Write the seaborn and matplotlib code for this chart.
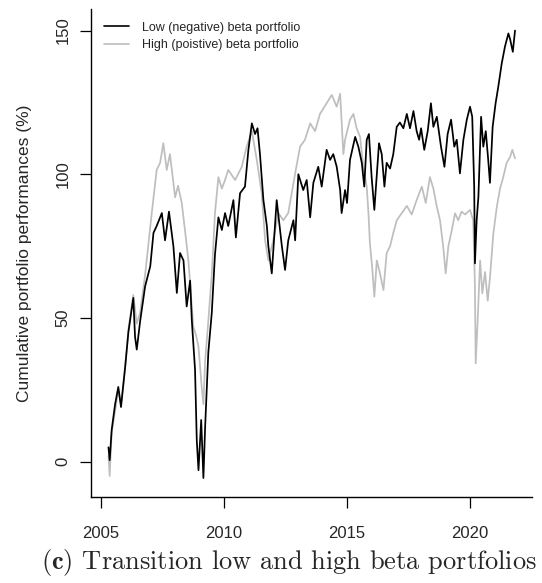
import pandas as pd
import seaborn as sns
import matplotlib.pyplot as plt

# Low (negative) beta portfolio
low_years = [2005.30, 2005.35, 2005.43, 2005.57, 2005.70, 2005.81, 2005.98, 2006.11, 2006.31, 2006.38,
             2006.45, 2006.59, 2006.79, 2007.00, 2007.13, 2007.26, 2007.47, 2007.60, 2007.76, 2007.94,
             2008.08, 2008.21, 2008.35, 2008.48, 2008.62, 2008.69, 2008.82, 2008.89, 2008.96, 2009.07,
             2009.16, 2009.23, 2009.36, 2009.50, 2009.63, 2009.77, 2009.91, 2010.04, 2010.17, 2010.38,
             2010.48, 2010.65, 2010.85, 2010.99, 2011.13, 2011.26, 2011.36, 2011.46, 2011.60, 2011.74,
             2011.80, 2011.94, 2012.14, 2012.35, 2012.48, 2012.61, 2012.82, 2012.89, 2013.02, 2013.22,
             2013.36, 2013.50, 2013.63, 2013.83, 2013.97, 2014.17, 2014.31, 2014.44, 2014.58, 2014.72,
             2014.78, 2014.92, 2015.00, 2015.12, 2015.33, 2015.46, 2015.60, 2015.70, 2015.80, 2015.89,
             2016.00, 2016.11, 2016.21, 2016.30, 2016.41, 2016.52, 2016.61, 2016.75, 2016.88, 2017.02,
             2017.15, 2017.29, 2017.43, 2017.56, 2017.70, 2017.83, 2017.93, 2018.01, 2018.14, 2018.28,
             2018.41, 2018.51, 2018.65, 2018.82, 2018.96, 2019.09, 2019.23, 2019.36, 2019.46, 2019.59,
             2019.73, 2019.87, 2020.00, 2020.09, 2020.17, 2020.20, 2020.27, 2020.34, 2020.45, 2020.54,
             2020.64, 2020.74, 2020.81, 2020.92, 2021.04, 2021.15, 2021.29, 2021.42, 2021.56, 2021.63,
             2021.74, 2021.83]
low_values = [5, 0.5, 11, 20, 26, 19, 33, 45, 57, 43.5,
              39, 49, 61, 68, 79.6, 82, 86.5, 77, 87, 75,
              58.7, 72.6, 70, 54, 63, 49, 32, 7.5, -3, 14.5,
              -5.7, 12, 38, 51.7, 72, 85, 80.6, 86.5, 82, 91,
              78, 93.4, 95.7, 108.5, 117.7, 114, 116, 107, 91, 82,
              75, 65.5, 91, 75, 66.7, 77, 84, 77, 100, 94.5,
              98, 85, 97, 102.6, 95.7, 108.5, 105, 107, 102.6, 94.5,
              86.5, 94.5, 90, 105, 113, 109.6, 104, 95.7, 112, 114,
              99, 87.6, 100, 110.8, 107, 95.7, 104, 102, 107, 116.5,
              118, 116, 121, 116, 122, 115, 112, 116, 108.5, 115,
              124.7, 116.5, 120, 109.6, 102.6, 114, 119, 109.6, 112, 100.3,
              112, 119, 123.5, 120, 95.7, 69, 84, 92, 120, 109.6,
              115, 105, 97, 116.5, 124.7, 130.5, 138.6, 144.4, 149, 147,
              142.6, 150]

# High (positive) beta portfolio
high_years = [2005.30, 2005.35, 2005.43, 2005.70, 2005.81, 2005.98, 2006.11, 2006.31, 2006.45, 2006.59,
              2006.79, 2007.06, 2007.26, 2007.40, 2007.53, 2007.67, 2007.80, 2008.01, 2008.13, 2008.28,
              2008.41, 2008.55, 2008.75, 2008.86, 2008.96, 2009.09, 2009.16, 2009.23, 2009.36, 2009.50,
              2009.63, 2009.77, 2009.91, 2010.04, 2010.17, 2010.45, 2010.72, 2010.92, 2011.13, 2011.33,
              2011.53, 2011.67, 2011.80, 2012.00, 2012.21, 2012.41, 2012.61, 2012.89, 2013.09, 2013.29,
              2013.50, 2013.70, 2013.90, 2014.17, 2014.38, 2014.58, 2014.72, 2014.85, 2014.92, 2015.12,
              2015.26, 2015.39, 2015.53, 2015.66, 2015.80, 2015.87, 2015.93, 2016.03, 2016.11, 2016.21,
              2016.34, 2016.48, 2016.61, 2016.75, 2016.88, 2017.02, 2017.22, 2017.43, 2017.63, 2017.83,
              2018.04, 2018.20, 2018.37, 2018.51, 2018.65, 2018.78, 2018.91, 2019.01, 2019.12, 2019.26,
              2019.39, 2019.52, 2019.66, 2019.80, 2020.00, 2020.13, 2020.20, 2020.23, 2020.31, 2020.41,
              2020.50, 2020.61, 2020.72, 2020.81, 2020.95, 2021.09, 2021.22, 2021.35, 2021.49, 2021.63,
              2021.72, 2021.83]
high_values = [2, -5, 10, 25, 20, 33, 46, 58, 48, 52,
               65, 86.5, 101.5, 104, 110.8, 101.5, 107, 92, 96, 90,
               80.6, 70, 47, 44, 40, 26, 20, 35, 49, 65,
               86.5, 99, 95, 98, 101.5, 98, 102.6, 109.6, 115, 105,
               93.4, 77, 70, 77, 86.5, 84, 86.5, 100.3, 109.6, 112,
               117.7, 115, 121, 124.7, 127.6, 123.5, 128, 107, 112, 119,
               121, 116, 113, 102.6, 95.7, 86.5, 76, 66.7, 57.4, 70,
               65.5, 59.7, 72.5, 75, 79.5, 84, 86.4, 89, 86, 91,
               95.7, 90, 99, 95, 88.7, 84, 74.8, 65.5, 75, 80.6,
               86.4, 84, 87, 86, 87.6, 84, 61, 34.2, 49, 70,
               58.6, 66, 56, 64, 79.5, 88.7, 95, 99, 104, 106,
               108.5, 105.5]

low_label = "Low (negative) beta portfolio"
high_label = "High (poistive) beta portfolio"

df = pd.concat([
    pd.DataFrame({"year": high_years, "perf": high_values, "portfolio": high_label}),
    pd.DataFrame({"year": low_years, "perf": low_values, "portfolio": low_label}),
])

sns.set_style("ticks")
plt.rcParams["font.family"] = ["Liberation Sans", "DejaVu Sans"]
plt.rcParams["mathtext.fontset"] = "cm"

fig = plt.figure(figsize=(5.42, 5.83), dpi=100)
ax = fig.add_axes([91 / 542, 1 - 497 / 583, (532 - 91) / 542, (497 - 9) / 583])

sns.lineplot(data=df, x="year", y="perf", hue="portfolio", estimator=None, sort=False,
             palette={low_label: "black", high_label: "#bebebe"}, linewidth=1.25, ax=ax, legend=False)

ax.set_xlim(2004.59, 2022.52)
ax.set_ylim(-12.3, 157.5)
ax.set_xticks([2005, 2010, 2015, 2020])
ax.set_yticks([0, 50, 100, 150])
ax.set_xlabel("")
ax.set_ylabel("Cumulative portfolio performances (%)", fontsize=12.5, labelpad=17)
ax.tick_params(axis="both", length=7.8, width=0.9, labelsize=12, color="black")
ax.tick_params(axis="x", pad=13)
ax.tick_params(axis="y", pad=7)
for lbl in ax.get_yticklabels():
    lbl.set_rotation(90)
    lbl.set_va("center")
for side in ["top", "right"]:
    ax.spines[side].set_visible(False)
for side in ["left", "bottom"]:
    ax.spines[side].set_linewidth(1.0)
    ax.spines[side].set_color("black")

# legend drawn by hand with the same colours, no frame
handles = [plt.Line2D([], [], color="black", lw=1.2), plt.Line2D([], [], color="#bebebe", lw=1.2)]
ax.legend(handles, [low_label, high_label], loc="upper left", frameon=False, fontsize=9,
          handlelength=2.0, handletextpad=1.1, labelspacing=0.45,
          bbox_to_anchor=(0.0, 1.0), borderaxespad=0.6)

fig.text(41 / 542, 1 - 569 / 583, r"$\mathbf{(c)}$ Transition low and high beta portfolios",
         family="cmr10", fontsize=19, ha="left", va="baseline")

fig.savefig("out.png", dpi=100)
